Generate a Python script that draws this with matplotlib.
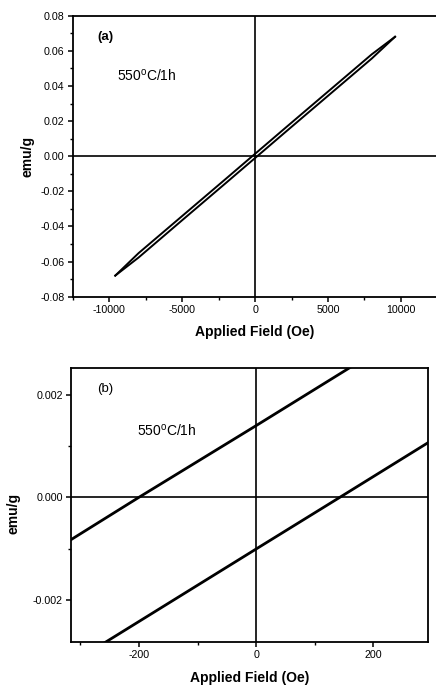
import matplotlib
matplotlib.use("Agg")
import matplotlib.pyplot as plt
from matplotlib.ticker import MultipleLocator, FormatStrFormatter

plt.rcParams["font.family"] = ["Liberation Sans", "DejaVu Sans"]
plt.rcParams["axes.unicode_minus"] = False
plt.rcParams["mathtext.fontset"] = "custom"
plt.rcParams["mathtext.rm"] = "Liberation Sans"

# Hysteresis loop of the sample annealed at 550 C for 1 h
# descending-field branch
field_down = [9600, 8000, 5000, 2000, 500, 0, -200, -500, -2000, -5000, -8000, -9600]
moment_down = [0.0680, 0.0580, 0.0368, 0.0156, 0.00494, 0.0014, 0.0000, -0.00214,
               -0.0128, -0.0340, -0.0552, -0.0680]
# ascending-field branch
field_up = [-9600, -8000, -5000, -2000, -500, 0, 143, 500, 2000, 5000, 8000, 9600]
moment_up = [-0.0680, -0.0577, -0.0364, -0.0152, -0.00455, -0.00101, 0.0000, 0.00253,
             0.0132, 0.0344, 0.0556, 0.0680]

sample_label = "550$^{\\mathrm{o}}$C/1h"

fig = plt.figure(figsize=(4.36, 6.86), dpi=100)
ax_a = fig.add_axes([0.1674, 0.5675, 0.8356, 0.4096])
ax_b = fig.add_axes([0.1628, 0.0646, 0.8195, 0.3985])

for ax in (ax_a, ax_b):
    for s in ax.spines.values():
        s.set_linewidth(1.3)
    ax.tick_params(which="major", direction="out", length=3.5, width=1.1,
                   labelsize=7.7, pad=2.5)
    ax.tick_params(which="minor", direction="out", length=2, width=1.0)
    ax.axhline(0, color="black", lw=1.2, zorder=1)
    ax.axvline(0, color="black", lw=1.2, zorder=1)

# Panel (a): full field range
ax_a.plot(field_down, moment_down, color="black", lw=1.4)
ax_a.plot(field_up, moment_up, color="black", lw=1.4)
ax_a.set_xlim(-12500, 12500)
ax_a.set_ylim(-0.08, 0.08)
ax_a.xaxis.set_major_locator(MultipleLocator(5000))
ax_a.xaxis.set_minor_locator(MultipleLocator(2500))
ax_a.yaxis.set_major_locator(MultipleLocator(0.02))
ax_a.yaxis.set_minor_locator(MultipleLocator(0.01))
ax_a.yaxis.set_major_formatter(FormatStrFormatter("%.2f"))
ax_a.set_xlabel("Applied Field (Oe)", fontsize=10, fontweight="bold", labelpad=7)
ax_a.set_ylabel("emu/g", fontsize=10, fontweight="bold", labelpad=4)
ax_a.text(-10822, 0.0676, "(a)", fontsize=9.5, fontweight="bold", va="center", ha="left")
ax_a.text(-9450, 0.046, sample_label, fontsize=10, va="center", ha="left")

# Panel (b): low-field region around the origin
ax_b.plot(field_down, moment_down, color="black", lw=2.0)
ax_b.plot(field_up, moment_up, color="black", lw=2.0)
ax_b.set_xlim(-316, 294)
ax_b.set_ylim(-0.00282, 0.00252)
ax_b.xaxis.set_major_locator(MultipleLocator(200))
ax_b.xaxis.set_minor_locator(MultipleLocator(100))
ax_b.yaxis.set_major_locator(MultipleLocator(0.002))
ax_b.yaxis.set_minor_locator(MultipleLocator(0.001))
ax_b.yaxis.set_major_formatter(FormatStrFormatter("%.3f"))
ax_b.set_xlabel("Applied Field (Oe)", fontsize=10, fontweight="bold", labelpad=8)
ax_b.set_ylabel("emu/g", fontsize=10, fontweight="bold", labelpad=4)
ax_b.yaxis.set_label_coords(-0.14, 0.47)
ax_b.text(-271, 0.00211, "(b)", fontsize=9.5, va="center", ha="left")
ax_b.text(-203, 0.0013, sample_label, fontsize=10, va="center", ha="left")

fig.savefig("out.png", dpi=100)
